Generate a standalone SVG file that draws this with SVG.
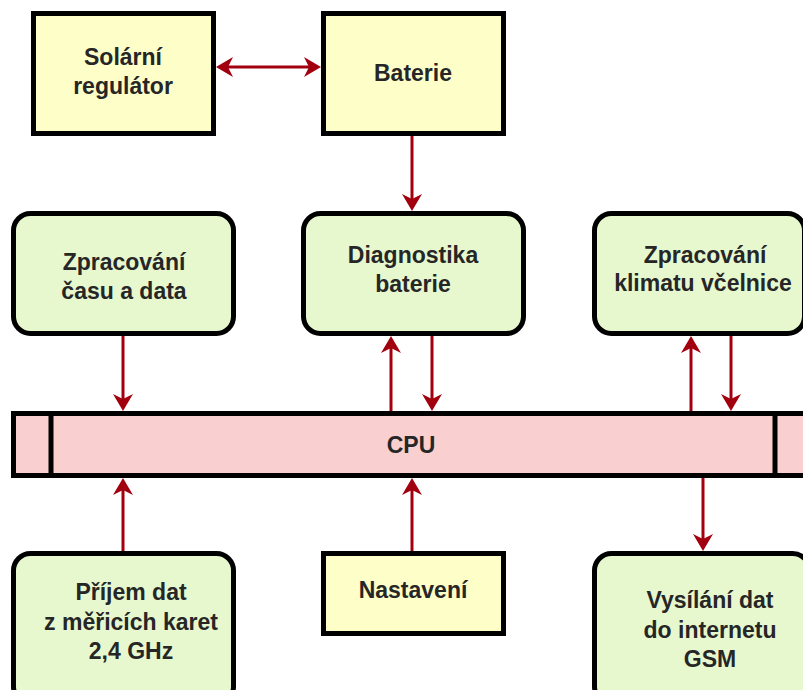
<svg xmlns="http://www.w3.org/2000/svg" width="803" height="690" viewBox="0 0 803 690">
<style>
.y{fill:#fefec9;stroke:#000;stroke-width:5}
.g{fill:#e7f8cf;stroke:#000;stroke-width:5}
.p{fill:#f9cfcf;stroke:#000;stroke-width:5}
.t{font-family:"Liberation Sans",Arial,sans-serif;font-size:23px;font-weight:bold;fill:#262626;text-anchor:middle}
.c{stroke:#a3000f;stroke-width:3;fill:none}
</style>
<defs>
<marker id="ah" markerUnits="userSpaceOnUse" viewBox="-18 -11 19 22" markerWidth="19" markerHeight="22" refX="-10" refY="0" orient="auto-start-reverse">
<path d="M0,0 L-17,-10 L-12,0 L-17,10 Z" fill="#a3000f"/>
</marker>
</defs>
<rect width="803" height="690" fill="#fff"/>
<g id="connectors">
<line class="c" x1="226" y1="67" x2="311" y2="67" marker-start="url(#ah)" marker-end="url(#ah)"/>
<line class="c" x1="412" y1="136" x2="412" y2="201" marker-end="url(#ah)"/>
<line class="c" x1="123" y1="336" x2="123" y2="401" marker-end="url(#ah)"/>
<line class="c" x1="391" y1="411" x2="391" y2="346" marker-end="url(#ah)"/>
<line class="c" x1="432" y1="336" x2="432" y2="401" marker-end="url(#ah)"/>
<line class="c" x1="691" y1="411" x2="691" y2="346" marker-end="url(#ah)"/>
<line class="c" x1="731" y1="336" x2="731" y2="401" marker-end="url(#ah)"/>
<line class="c" x1="123" y1="551" x2="123" y2="488" marker-end="url(#ah)"/>
<line class="c" x1="412" y1="551" x2="412" y2="488" marker-end="url(#ah)"/>
<line class="c" x1="703" y1="478" x2="703" y2="541" marker-end="url(#ah)"/>
</g>
<g id="solar">
<rect class="y" x="33.5" y="13.5" width="180" height="120"/>
<text class="t" x="123" y="65">Solární</text>
<text class="t" x="123" y="94">regulátor</text>
</g>
<g id="baterie">
<rect class="y" x="323.5" y="13.5" width="180" height="120"/>
<text class="t" x="413" y="81">Baterie</text>
</g>
<g id="cas">
<rect class="g" x="13.5" y="213.5" width="220" height="120" rx="17"/>
<text class="t" x="124" y="270">Zpracování</text>
<text class="t" x="124" y="299">času a data</text>
</g>
<g id="diag">
<rect class="g" x="303.5" y="213.5" width="220" height="120" rx="17"/>
<text class="t" x="413" y="263">Diagnostika</text>
<text class="t" x="413" y="292">baterie</text>
</g>
<g id="klima">
<rect class="g" x="594.5" y="213.5" width="210" height="120" rx="17"/>
<text class="t" x="705" y="263">Zpracování</text>
<text class="t" x="703" y="291">klimatu včelnice</text>
</g>
<g id="cpu">
<rect class="p" x="13.5" y="413.5" width="800" height="62"/>
<line x1="51" y1="413.5" x2="51" y2="475.5" stroke="#000" stroke-width="5"/>
<line x1="775" y1="413.5" x2="775" y2="475.5" stroke="#000" stroke-width="5"/>
<text class="t" x="411" y="453">CPU</text>
</g>
<g id="prijem">
<rect class="g" x="13.5" y="553.5" width="220" height="150" rx="17"/>
<text class="t" x="131" y="600">Příjem dat</text>
<text class="t" x="131" y="630">z měřicích karet</text>
<text class="t" x="131" y="659">2,4 GHz</text>
</g>
<g id="nastaveni">
<rect class="y" x="323.5" y="553.5" width="180" height="80"/>
<text class="t" x="413" y="598">Nastavení</text>
</g>
<g id="vysilani">
<rect class="g" x="594.5" y="553.5" width="215" height="150" rx="17"/>
<text class="t" x="710" y="608">Vysílání dat</text>
<text class="t" x="710" y="638">do internetu</text>
<text class="t" x="710" y="667">GSM</text>
</g>
</svg>
